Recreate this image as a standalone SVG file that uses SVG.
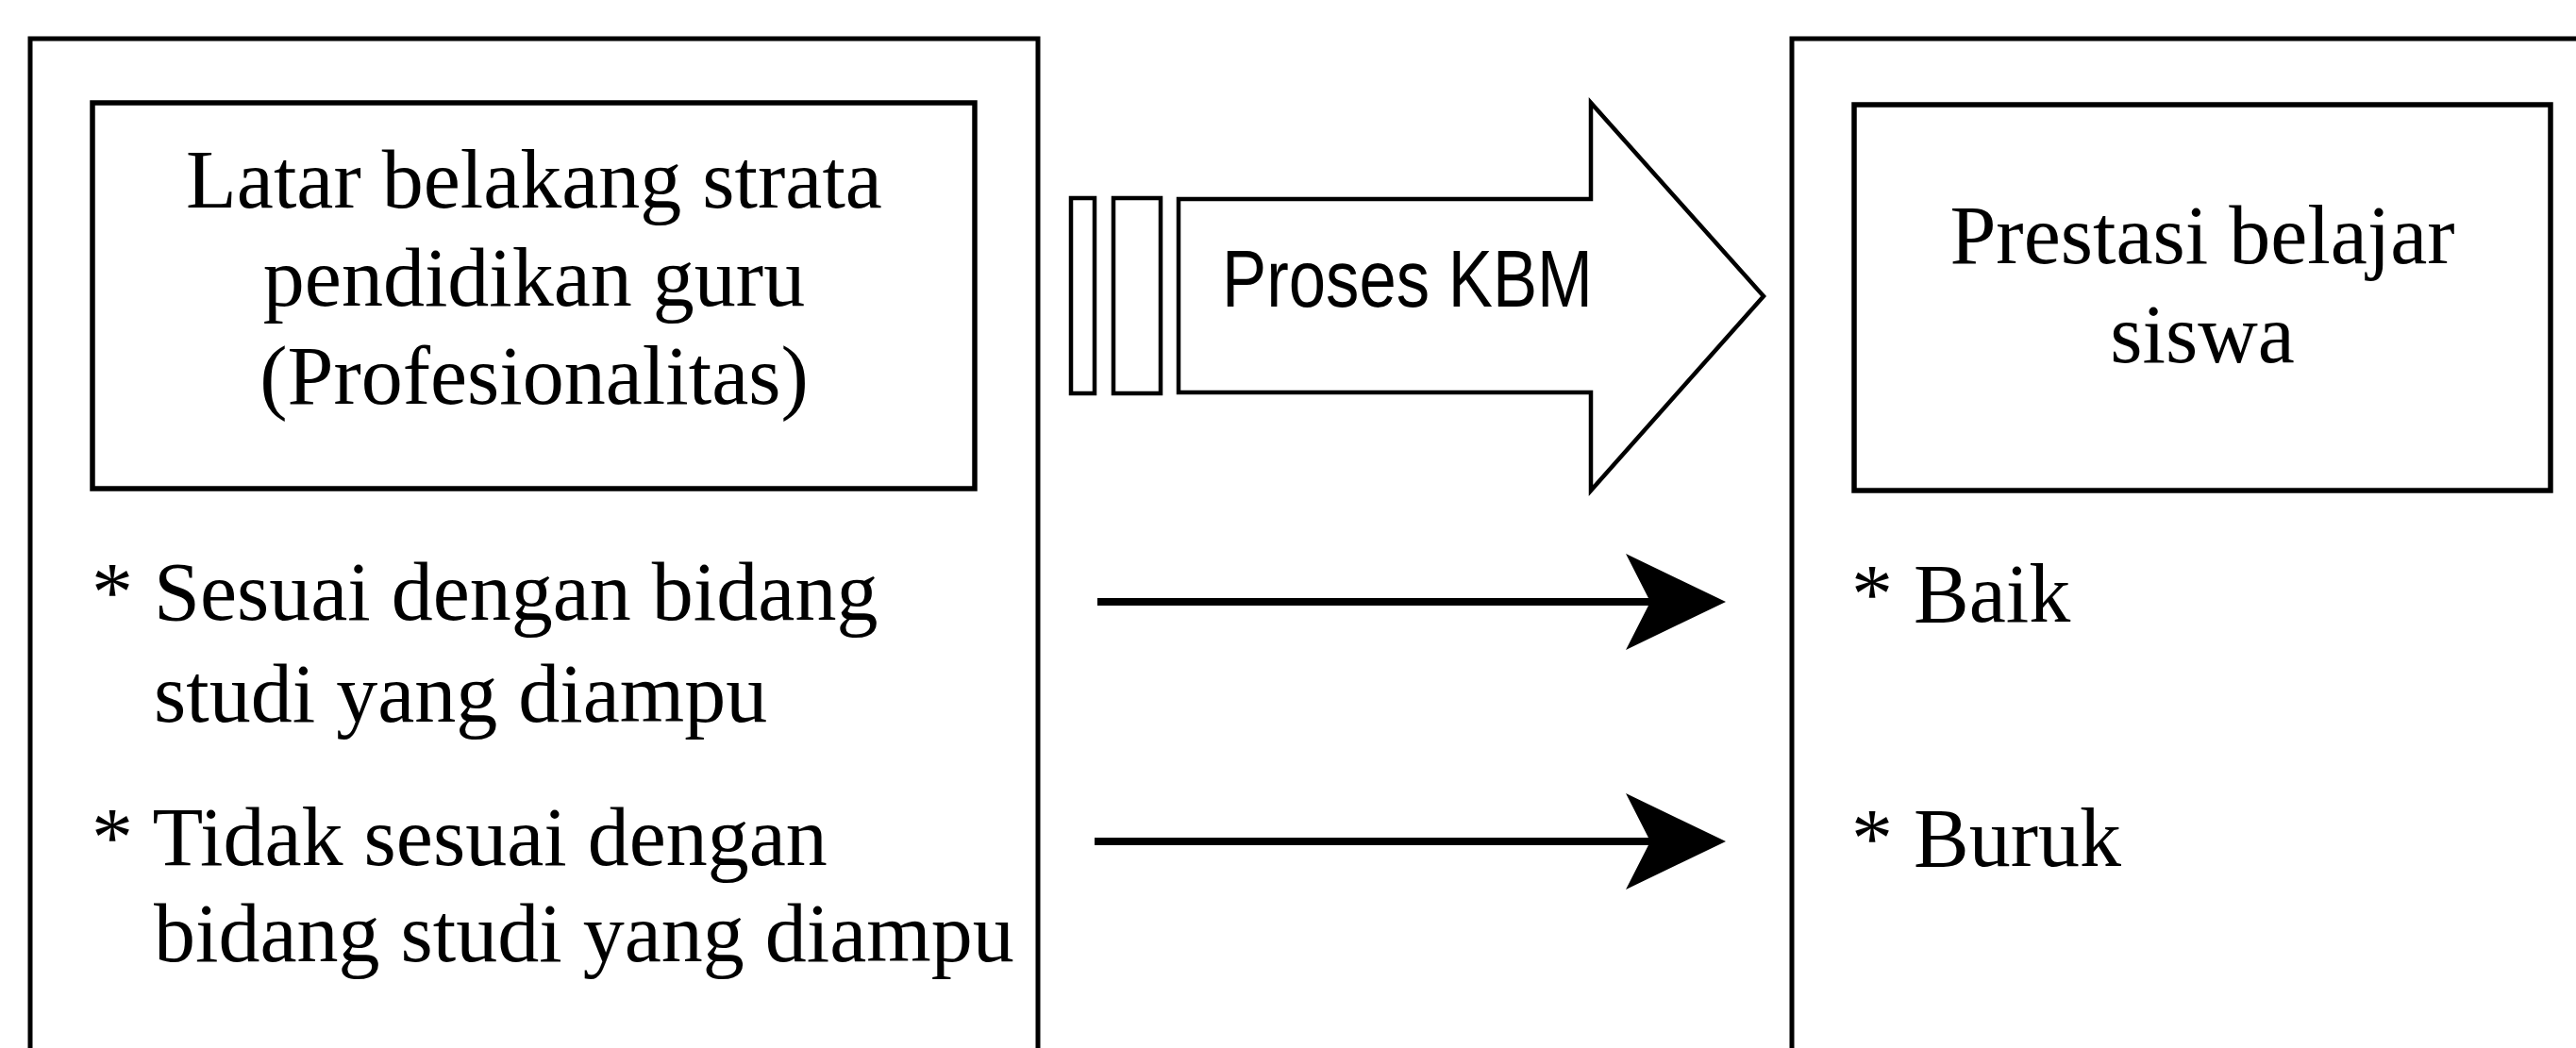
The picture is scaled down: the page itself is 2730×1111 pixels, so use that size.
<svg xmlns="http://www.w3.org/2000/svg" width="2730" height="1111" viewBox="0 0 2730 1111">
<style>
.box{fill:none;stroke:#000;stroke-width:5}
.inner{fill:none;stroke:#000;stroke-width:5.5}
.serif{font-family:"Liberation Serif","Times New Roman",serif;font-size:88px;fill:#000}
.mid{text-anchor:middle}
.sans{font-family:"Liberation Sans",Arial,sans-serif;font-size:86px;fill:#000}
.shape{fill:#fff;stroke:#000;stroke-width:4.5}
.line{stroke:#000;stroke-width:8;fill:none}
</style>
<defs>
<marker id="head" viewBox="0 0 106 102" refX="32" refY="51" markerWidth="106" markerHeight="102" markerUnits="userSpaceOnUse" orient="auto">
<path d="M0,0 L106,51 L0,102 L26,51 Z" fill="#000"/>
</marker>
</defs>
<rect width="2730" height="1111" fill="#fff"/>
<g id="node-guru">
<path class="box" d="M32,1115 V41 H1100 V1115"/>
<rect class="inner" x="98" y="109" width="935" height="409"/>
<text class="serif mid" x="566" y="220">Latar belakang strata</text>
<text class="serif mid" x="566" y="324">pendidikan guru</text>
<text class="serif mid" x="566" y="428">(Profesionalitas)</text>
<text class="serif" x="97" y="657">* Sesuai dengan bidang</text>
<text class="serif" x="163" y="765">studi yang diampu</text>
<text class="serif" x="97" y="917">* Tidak sesuai dengan</text>
<text class="serif" x="163" y="1019">bidang studi yang diampu</text>
</g>
<g id="node-prestasi">
<path class="box" d="M1899,1115 V41 H2735"/>
<rect class="inner" x="1965" y="111" width="738" height="409"/>
<text class="serif mid" x="2334" y="279">Prestasi belajar</text>
<text class="serif mid" x="2334" y="384">siswa</text>
<text class="serif" x="1962" y="659">* Baik</text>
<text class="serif" x="1962" y="918">* Buruk</text>
</g>
<g id="connectors">
<g id="proses-kbm">
<rect class="shape" x="1135" y="210" width="25" height="207"/>
<rect class="shape" x="1180" y="210" width="50" height="207"/>
<polygon class="shape" points="1249,211 1686,211 1686,109 1869,314 1686,520 1686,416 1249,416"/>
<text class="sans" x="1295" y="325" textLength="393" lengthAdjust="spacingAndGlyphs">Proses KBM</text>
</g>
<line class="line" x1="1163" y1="638" x2="1755" y2="638" marker-end="url(#head)"/>
<line class="line" x1="1160" y1="892" x2="1755" y2="892" marker-end="url(#head)"/>
</g>
</svg>
